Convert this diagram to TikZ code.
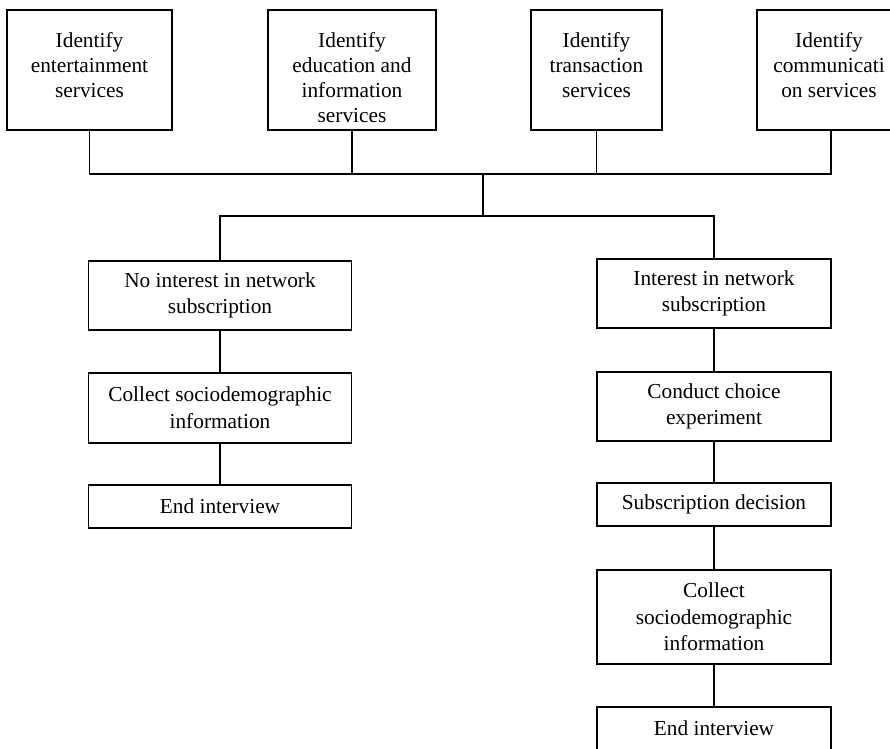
\documentclass[tikz,border=0pt]{standalone}
\usepackage{fontspec}
\setmainfont{Liberation Serif}
\begin{document}
\begin{tikzpicture}[x=0.75pt,y=-0.75pt,line width=1.4pt,
  sz/.style 2 args={minimum width=#1*0.75pt,minimum height=#2*0.75pt},
  box/.style={draw,rectangle,inner sep=0pt,align=center,
    font=\fontsize{16}{20}\selectfont},
  toptext/.style={inner sep=0pt,align=center,anchor=north,
    font=\fontsize{16}{18.75}\selectfont}]
\useasboundingbox (0,0) rectangle (890,749);
\clip (0,0) rectangle (890,749);
% top row
\node[box,sz={165}{120}] (t1) at (89.5,70) {};
\node[box,sz={168}{120}] (t2) at (352,70) {};
\node[box,sz={131}{120}] (t3) at (596.5,70) {};
\node[box,sz={148}{120}] (t4) at (831,70) {};
\node[toptext] (t1x) at (89.5,32) {Identify\\entertainment\\services};
\node[toptext] (t2x) at (352,32) {Identify\\education and\\information\\services};
\node[toptext] (t3x) at (596.5,32) {Identify\\transaction\\services};
\node[toptext] (t4x) at (829,32) {Identify\\communicati\\on services};
% left column
\node[box,sz={263}{69}] (l1) at (220,295.5) {No interest in network\\subscription};
\node[box,sz={263}{70}] (l2) at (220,408) {Collect sociodemographic\\information};
\node[box,sz={263}{43}] (l3) at (220,506.5) {End interview};
% right column
\node[box,sz={234}{69}] (r1) at (714,293.5) {Interest in network\\subscription};
\node[box,sz={234}{69}] (r2) at (714,406.5) {Conduct choice\\experiment};
\node[box,sz={234}{43}] (r3) at (714,504.5) {Subscription decision};
\node[box,sz={234}{94}] (r4) at (714,617) {Collect\\sociodemographic\\information};
\node[box,sz={234}{43}] (r5) at (714,728.5) {End interview};
% connectors
\coordinate (hub) at (483,174);
\coordinate (split) at (483,216);
\draw (t1.south) |- (hub) -| (t4.south);
\draw (t2.south) -- (t2.south |- hub);
\draw (t3.south) -- (t3.south |- hub);
\draw (hub) -- (split);
\draw (l1.north) |- (split) -| (r1.north);
\draw (l1.south) -- (l2.north);
\draw (l2.south) -- (l3.north);
\draw (r1.south) -- (r2.north);
\draw (r2.south) -- (r3.north);
\draw (r3.south) -- (r4.north);
\draw (r4.south) -- (r5.north);
\end{tikzpicture}
\end{document}
